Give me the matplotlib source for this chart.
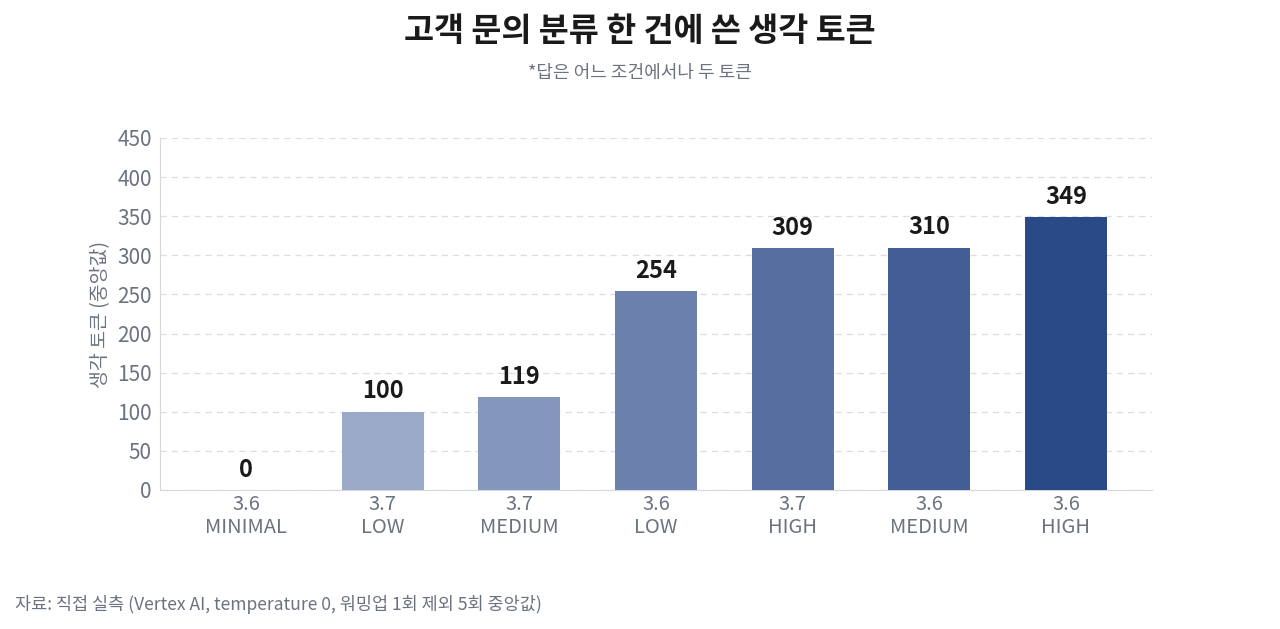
import matplotlib
matplotlib.use("Agg")
import matplotlib.pyplot as plt

plt.rcParams['font.family'] = ['Noto Sans CJK KR', 'DejaVu Sans']

versions = ["3.6", "3.7", "3.7", "3.6", "3.7", "3.6", "3.6"]
levels = ["MINIMAL", "LOW", "MEDIUM", "LOW", "HIGH", "MEDIUM", "HIGH"]
tokens = [0, 100, 119, 254, 309, 310, 349]
colors = ["#A7B4D0", "#9AA9C8", "#8396BB", "#6B80AC", "#566FA0", "#435E95", "#2A4A87"]
yticks = [0, 50, 100, 150, 200, 250, 300, 350, 400, 450]

GRAY = "#6B7280"

fig = plt.figure(figsize=(12.8, 6.29), dpi=100)
ax = fig.add_axes([160 / 1280, 1 - 490 / 629, 992 / 1280, 352 / 629])

x = range(len(tokens))
bars = ax.bar(x, tokens, width=0.6, color=colors, zorder=3)
for b, v in zip(bars, tokens):
    ax.annotate(f"{v}", xy=(b.get_x() + b.get_width() / 2, v), xytext=(0, 6),
                textcoords="offset points", ha="center", va="bottom",
                fontsize=17, fontweight="bold", color="#1a1a1a")

ax.set_xlim(-0.63, 6.63)
ax.set_ylim(0, 450)
ax.set_yticks(yticks)
ax.set_xticks(list(x))
ax.set_xticklabels([f"{a}\n{b}" for a, b in zip(versions, levels)], fontsize=14.5,
                   color=GRAY, linespacing=1.1)
ax.tick_params(axis="y", labelsize=15, labelcolor=GRAY, length=0, pad=6)
ax.tick_params(axis="x", length=0, pad=3)
ax.grid(axis="y", linestyle=(0, (5, 4)), color="#DADDE2", linewidth=0.9, zorder=0)
for s in ["top", "right"]:
    ax.spines[s].set_visible(False)
ax.spines["left"].set_color("#D5D8DD")
ax.spines["bottom"].set_color("#D5D8DD")
ax.set_ylabel("생각 토큰 (중앙값)", fontsize=14, color=GRAY, labelpad=4)

fig.text(0.5, 1 - 32 / 629, "고객 문의 분류 한 건에 쓴 생각 토큰", ha="center", va="center",
         fontsize=23.5, fontweight="bold", color="#1a1a1a")
fig.text(0.5, 1 - 73 / 629, "*답은 어느 조건에서나 두 토큰", ha="center", va="center",
         fontsize=13, color=GRAY)
fig.text(15 / 1280, 1 - 605 / 629, "자료: 직접 실측 (Vertex AI, temperature 0, 워밍업 1회 제외 5회 중앙값)",
         ha="left", va="center", fontsize=12.6, color=GRAY)

fig.savefig("out.png", dpi=100, facecolor="white")
